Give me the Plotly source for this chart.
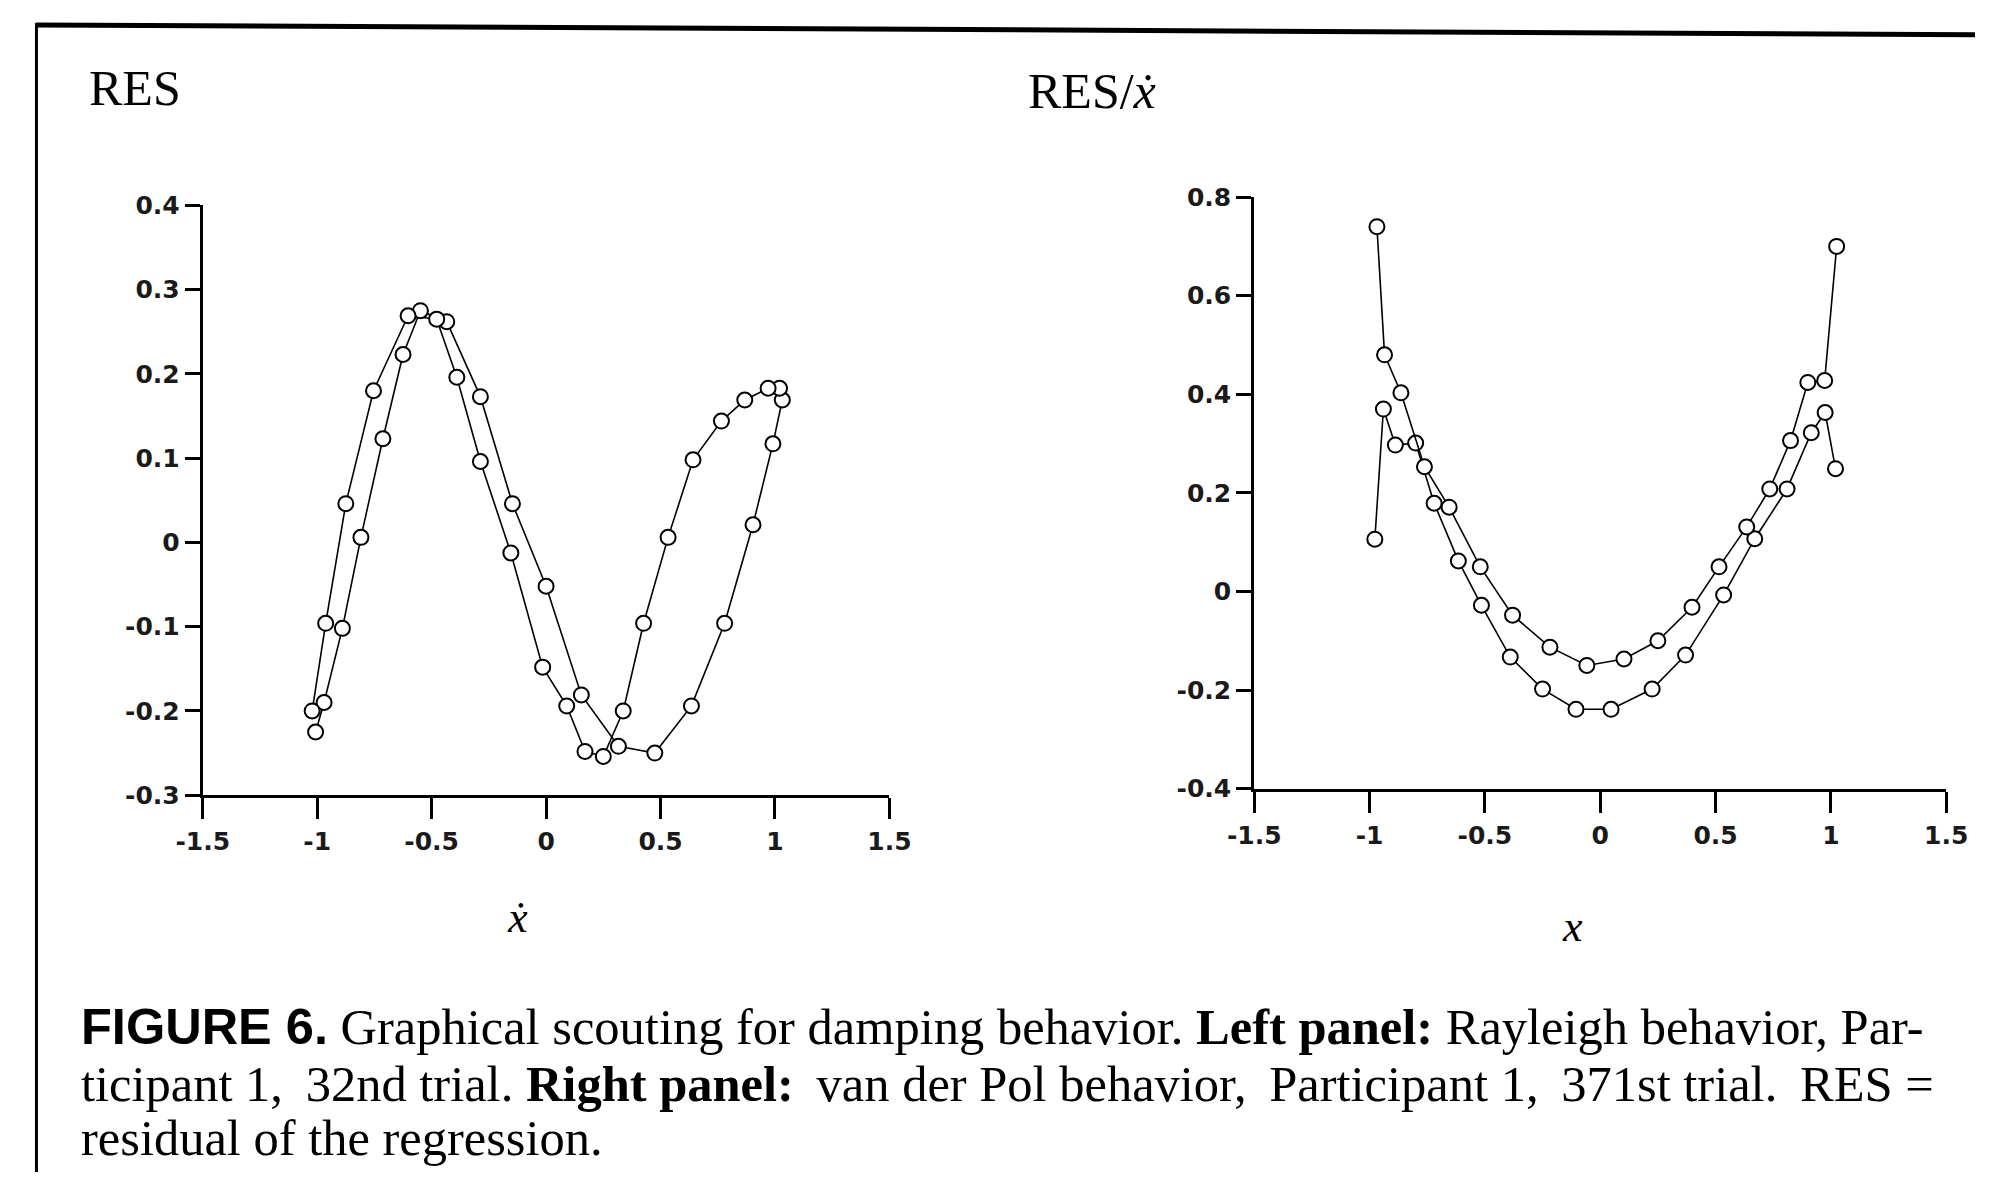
import plotly.graph_objects as go

# ---------------- data ----------------
# Left panel: RES vs x-dot (Rayleigh behavior). Forward pass then return pass.
left_fwd_x = [-1.007, -0.97, -0.89, -0.809, -0.713, -0.625, -0.549, -0.434, -0.287,
              -0.147, 0.0, 0.154, 0.316, 0.475, 0.635, 0.78, 0.904, 0.991, 1.032]
left_fwd_y = [-0.225, -0.19, -0.102, 0.006, 0.123, 0.223, 0.275, 0.262, 0.173,
              0.046, -0.052, -0.181, -0.242, -0.25, -0.194, -0.096, 0.021, 0.117, 0.169]
left_bwd_x = [1.02, 0.97, 0.868, 0.766, 0.642, 0.533, 0.426, 0.337, 0.25, 0.17, 0.09,
              -0.015, -0.154, -0.287, -0.39, -0.478, -0.603, -0.754, -0.875, -0.963, -1.022]
left_bwd_y = [0.183, 0.183, 0.169, 0.144, 0.098, 0.006, -0.096, -0.2, -0.254, -0.248, -0.194,
              -0.148, -0.0125, 0.096, 0.196, 0.265, 0.269, 0.18, 0.046, -0.096, -0.2]

# Right panel: RES/x-dot vs x (van der Pol behavior). Lower pass and upper pass.
right_low_x = [1.02, 0.975, 0.915, 0.81, 0.67, 0.535, 0.37, 0.225, 0.047, -0.105,
               -0.25, -0.39, -0.515, -0.615, -0.72, -0.8, -0.888, -0.94, -0.977]
right_low_y = [0.249, 0.363, 0.322, 0.208, 0.107, -0.007, -0.129, -0.198, -0.239, -0.239,
               -0.198, -0.133, -0.028, 0.062, 0.179, 0.301, 0.297, 0.37, 0.106]
right_up_x = [-0.968, -0.935, -0.864, -0.762, -0.655, -0.52, -0.38, -0.218, -0.058, 0.103,
              0.25, 0.398, 0.515, 0.635, 0.735, 0.825, 0.9, 0.973, 1.025]
right_up_y = [0.74, 0.48, 0.403, 0.253, 0.171, 0.05, -0.048, -0.113, -0.15, -0.137,
              -0.1, -0.032, 0.05, 0.131, 0.208, 0.306, 0.424, 0.428, 0.70]

x_tick_vals = [-1.5, -1, -0.5, 0, 0.5, 1, 1.5]
x_tick_text = ["-1.5", "-1", "-0.5", "0", "0.5", "1", "1.5"]
left_y_tick_vals = [-0.3, -0.2, -0.1, 0, 0.1, 0.2, 0.3, 0.4]
left_y_tick_text = ["-0.3", "-0.2", "-0.1", "0", "0.1", "0.2", "0.3", "0.4"]
right_y_tick_vals = [-0.4, -0.2, 0, 0.2, 0.4, 0.6, 0.8]
right_y_tick_text = ["-0.4", "-0.2", "0", "0.2", "0.4", "0.6", "0.8"]

left_title = "RES"
right_title = "RES/<i>ẋ</i>"
left_xlabel = "<i>ẋ</i>"
right_xlabel = "<i>x</i>"
T = "\u2009"  # thin space, used to justify the second caption line like the print
caption_lines = [
    "<span style=\"font-family:Liberation Sans\"><b>FIGURE 6.</b></span> Graphical scouting for damping behavior. "
    "<b>Left panel:</b> Rayleigh behavior, Par-",
    f"ticipant 1,{T} 32nd trial. <b>Right panel:</b>{T} van der Pol behavior,{T} Participant 1,{T} "
    f"371st trial.{T} RES =",
    "residual of the regression.",
]

# ---------------- figure ----------------
# Positions below are page pixels; the page body keeps its default 8px margin.
WIN_W, WIN_H = 2005, 1195
OFF = 8
W, H = WIN_W - 2 * OFF, WIN_H - 2 * OFF


def px(x):
    return (x - OFF) / W


def py(y):
    return 1 - (y - OFF) / H


line_style = dict(color="black", width=1.6)
marker_style = dict(symbol="circle", size=15, color="white", line=dict(color="black", width=2))

fig = go.Figure()
fig.add_trace(go.Scatter(x=left_fwd_x + left_bwd_x, y=left_fwd_y + left_bwd_y,
                         mode="lines+markers", line=line_style, marker=marker_style,
                         xaxis="x", yaxis="y", showlegend=False, cliponaxis=False))
fig.add_trace(go.Scatter(x=right_low_x, y=right_low_y,
                         mode="lines+markers", line=line_style, marker=marker_style,
                         xaxis="x2", yaxis="y2", showlegend=False, cliponaxis=False))
fig.add_trace(go.Scatter(x=right_up_x, y=right_up_y,
                         mode="lines+markers", line=line_style, marker=marker_style,
                         xaxis="x2", yaxis="y2", showlegend=False, cliponaxis=False))

tick_font = dict(family="DejaVu Sans, Arial, sans-serif", size=25, color="#1a1a1a", weight="bold")
common_x = dict(range=[-1.5, 1.5], tickvals=x_tick_vals, ticktext=x_tick_text,
                ticks="outside", ticklen=21, tickwidth=3, tickcolor="black",
                showline=True, linewidth=3, linecolor="black", ticklabelstandoff=1,
                showgrid=False, zeroline=False, tickfont=tick_font, fixedrange=True)
common_y = dict(ticks="outside", ticklen=15, tickwidth=3, tickcolor="black",
                showline=True, linewidth=3, linecolor="black",
                showgrid=False, zeroline=False, tickfont=tick_font, fixedrange=True)

fig.update_layout(
    width=W, height=H,
    margin=dict(l=0, r=0, t=0, b=0),
    paper_bgcolor="white", plot_bgcolor="white",
    xaxis=dict(domain=[px(180), px(884)], anchor="y", **common_x),
    yaxis=dict(domain=[py(800.7), py(196)], anchor="x", range=[-0.3, 0.4],
               tickvals=left_y_tick_vals, ticktext=left_y_tick_text, **common_y),
    xaxis2=dict(domain=[px(1258), px(1967.5)], anchor="y2", **common_x),
    yaxis2=dict(domain=[py(794), py(187.5)], anchor="x2", range=[-0.4, 0.8],
                tickvals=right_y_tick_vals, ticktext=right_y_tick_text, **common_y),
)

serif = "Liberation Serif, Times New Roman, serif"
ann = []
ann.append(dict(text=left_title, x=px(61), y=py(76), xref="paper", yref="paper",
                xanchor="left", yanchor="middle", showarrow=False,
                font=dict(family=serif, size=50, color="black")))
ann.append(dict(text=right_title, x=px(1024), y=py(79), xref="paper", yref="paper",
                xanchor="left", yanchor="middle", showarrow=False,
                font=dict(family=serif, size=50, color="black")))
ann.append(dict(text=left_xlabel, x=px(503), y=py(926), xref="paper", yref="paper",
                xanchor="center", yanchor="middle", showarrow=False,
                font=dict(family=serif, size=44, color="black")))
ann.append(dict(text=right_xlabel, x=px(1584), y=py(935), xref="paper", yref="paper",
                xanchor="center", yanchor="middle", showarrow=False,
                font=dict(family=serif, size=44, color="black")))
for txt, yy in zip(caption_lines, [1038, 1097, 1152]):
    ann.append(dict(text=txt, x=px(53), y=py(yy), xref="paper", yref="paper",
                    xanchor="left", yanchor="middle", showarrow=False,
                    font=dict(family=serif, size=50.5, color="black")))
fig.update_layout(annotations=ann)

# frame of the scanned page
fig.update_layout(shapes=[
    dict(type="line", xref="paper", yref="paper", x0=px(9), y0=py(11), x1=1.0, y1=py(21),
         line=dict(color="black", width=5)),
    dict(type="line", xref="paper", yref="paper", x0=px(9.5), y0=py(9), x1=px(9.5), y1=0.0,
         line=dict(color="black", width=3)),
])

fig.write_html("out.html", config={"displayModeBar": False})
